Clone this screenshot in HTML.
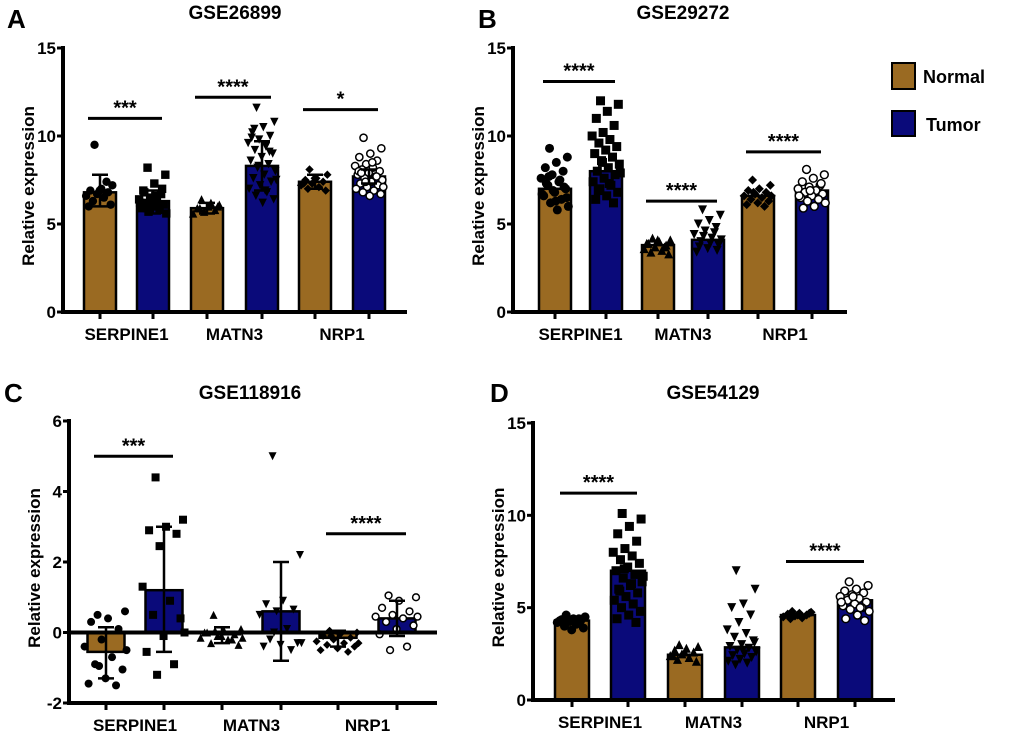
<!DOCTYPE html>
<html><head><meta charset="utf-8"><style>
body{margin:0;background:#fff}
svg{display:block;font-family:"Liberation Sans",Arial,sans-serif;font-weight:bold}
</style></head><body>
<svg id="fig" width="1020" height="742" viewBox="0 0 1020 742">
<g id="legend">
<rect x="892" y="63" width="23" height="26" fill="#9a6a22" stroke="#000" stroke-width="2"/>
<text x="923" y="83" font-size="18">Normal</text>
<rect x="892" y="111" width="23" height="25" fill="#0a0a7a" stroke="#000" stroke-width="2"/>
<text x="926" y="131" font-size="18">Tumor</text>
</g>
</svg>
<script>
const categories=["SERPINE1","MATN3","NRP1"];
const groups=["Normal","Tumor"];
const meansA=[6.8,6.3,5.9,8.3,7.4,7.7];
const meansB=[7.0,8.0,3.8,4.1,6.6,6.9];
const meansC=[-0.55,1.2,-0.05,0.6,-0.15,0.4];
const meansD=[4.3,7.0,2.45,2.85,4.6,5.4];
const errA=[[6.0,7.8],[5.6,6.9],[5.6,6.2],[6.9,9.7],[7.0,7.8],[7.3,8.1]];
const errC=[[-1.3,0.15],[-0.55,3.0],[-0.3,0.15],[-0.8,2.0],[-0.4,0.05],[-0.1,0.9]];
const ptsA=[[9.5,7.2,7.0,6.9,6.8,6.7,6.6,6.5,6.3,6.1,6.9,6.0,7.4],
 [8.2,7.8,7.3,6.9,6.7,6.5,6.4,6.3,6.2,6.1,6.0,5.9,5.8,5.7,5.6,6.6,6.8,7.0,6.4,6.2,6.0,5.9],
 [6.4,6.1,6.0,5.9,5.8,5.7,5.6,6.2,5.9,6.0],
 [11.6,10.8,10.5,10.2,10.0,9.8,9.6,9.4,9.2,9.0,8.8,8.6,8.4,8.2,8.0,7.8,7.6,7.4,7.2,7.0,6.8,6.6,6.4,6.2,9.9,9.1,8.3,7.5,6.9,10.4],
 [8.1,7.8,7.6,7.5,7.4,7.3,7.2,7.1,7.0,6.9,7.6,7.3],
 [9.9,9.3,9.0,8.8,8.6,8.4,8.3,8.2,8.1,8.0,7.9,7.8,7.7,7.6,7.5,7.4,7.3,7.2,7.1,7.0,6.9,6.8,6.7,6.6,8.0,7.7,7.4,7.1,8.5,7.9]];
const ptsB=[[9.3,8.8,8.5,8.2,8.0,7.8,7.6,7.4,7.2,7.0,6.8,6.6,6.4,6.2,6.0,5.8,7.3,7.1,6.9,6.7,7.5,7.7,6.5,6.3],
 [12.0,11.8,11.4,11.0,10.6,10.2,10.0,9.8,9.6,9.4,9.2,9.0,8.8,8.6,8.4,8.2,8.0,7.8,7.6,7.4,7.2,7.0,6.8,6.6,6.4,6.2,8.5,7.9,7.3,6.9],
 [4.2,4.1,4.0,3.9,3.8,3.7,3.6,3.5,3.4,3.3,4.1,3.9,3.7],
 [5.8,5.5,5.2,5.0,4.8,4.6,4.4,4.2,4.0,3.8,3.6,3.4,4.5,4.3,4.1,3.9,3.7,3.5],
 [7.5,7.2,7.0,6.9,6.8,6.7,6.6,6.5,6.4,6.3,6.2,6.1,6.0,6.8,6.6],
 [8.1,7.8,7.6,7.4,7.2,7.1,7.0,6.9,6.8,6.7,6.6,6.5,6.4,6.3,6.2,6.0,5.9,7.3,6.9,6.6]];
const ptsC=[[0.5,0.6,0.4,0.3,0.1,-0.2,-0.4,-0.7,-0.9,-1.05,-1.3,-1.45,-1.5,-0.95,-0.5],
 [4.4,3.2,3.0,2.9,2.8,2.45,1.3,0.9,0.5,0.4,-0.1,-0.55,-0.9,-1.2,0.0],
 [0.5,0.1,0.05,0.0,-0.05,-0.1,-0.15,-0.2,-0.3,-0.35,-0.1,0.0,-0.2,0.05,-0.15],
 [5.0,2.2,0.9,0.8,0.65,0.6,0.5,0.1,-0.2,-0.3,-0.35,-0.4,-0.5,0.0,-0.3],
 [0.05,0.0,-0.05,-0.1,-0.15,-0.2,-0.25,-0.3,-0.35,-0.4,-0.45,-0.5,-0.55,-0.1,-0.3],
 [1.05,1.0,0.9,0.7,0.6,0.5,0.45,0.4,0.3,0.2,0.1,-0.05,-0.4,-0.5,0.45]];
const ptsD=[[4.6,4.5,4.4,4.35,4.3,4.25,4.2,4.1,4.0,3.9,3.8,4.3,4.4],
 [10.1,9.8,9.4,9.0,8.6,8.2,8.0,7.8,7.6,7.4,7.2,7.0,6.8,6.6,6.4,6.2,6.0,5.8,5.6,5.4,5.2,5.0,4.8,4.6,4.4,4.2,7.1,6.7,6.3,5.9],
 [3.0,2.9,2.8,2.7,2.6,2.5,2.4,2.3,2.2,2.1,2.6,2.4],
 [7.0,6.0,5.2,5.0,4.6,4.2,3.8,3.6,3.4,3.2,3.0,2.9,2.8,2.7,2.6,2.5,2.4,2.3,2.2,2.1,2.0,1.9,3.1,2.7],
 [4.8,4.75,4.7,4.65,4.6,4.55,4.5,4.45,4.4,4.7,4.6],
 [6.4,6.2,6.0,5.9,5.8,5.7,5.6,5.5,5.4,5.3,5.2,5.1,5.0,4.9,4.8,4.6,4.4,4.3,5.6,5.3,5.0]];
const yTicksAB=[0,5,10,15];
const yTicksC=[-2,0,2,4,6];
const sigA=[["***",0,1,11.0],["****",2,3,12.2],["*",4,5,11.5]];
const sigB=[["****",0,1,13.1],["****",2,3,6.3],["****",4,5,9.1]];
const sigC=[["***",0,1,5.0],["****",4,5,2.8]];
const sigD=[["****",0,1,11.2],["****",4,5,7.5]];

const NS="http://www.w3.org/2000/svg";
const svg=document.getElementById('fig');
function mk(tag,attrs,parent){const e=document.createElementNS(NS,tag);for(const k in attrs)e.setAttribute(k,attrs[k]);(parent||svg).appendChild(e);return e;}
const markers=["circle","square","tri","tridown","diamond","ocircle"];
function marker(g,type,x,y,s){
  let e;
  if(type==="circle") e=mk('circle',{cx:x,cy:y,r:s,fill:'#000'},g);
  else if(type==="ocircle") e=mk('circle',{cx:x,cy:y,r:s-0.6,fill:'#fff',stroke:'#000','stroke-width':1.5},g);
  else if(type==="square") e=mk('rect',{x:x-s,y:y-s,width:2*s,height:2*s,fill:'#000'},g);
  else if(type==="tri") e=mk('polygon',{points:`${x},${y-s} ${x-s},${y+s} ${x+s},${y+s}`,fill:'#000'},g);
  else if(type==="tridown") e=mk('polygon',{points:`${x},${y+s} ${x-s},${y-s} ${x+s},${y-s}`,fill:'#000'},g);
  else e=mk('polygon',{points:`${x},${y-s} ${x+s},${y} ${x},${y+s} ${x-s},${y}`,fill:'#000'},g);
  
  
}
function panel(p){
  const g=mk('g',{});
  
  
  const ys=v=>p.y0px+(v-p.ymin)/(p.ymax-p.ymin)*(p.y1px-p.y0px);
  const base=ys(Math.max(0,p.ymin));
  const L=mk('text',{x:p.lx,y:p.ly,'font-size':26},g);L.textContent=p.letter;
  
  const T=mk('text',{x:p.tx,y:p.ty,'font-size':19,'text-anchor':'middle'},g);T.textContent=p.title;
  
  const yt=mk('text',{x:0,y:0,'font-size':17,'text-anchor':'middle',transform:`translate(${p.ax-29},${(p.y0px+p.y1px)/2+6}) rotate(-90)`},g);
  yt.textContent="Relative expression";
  
  p.means.forEach((m,i)=>{
    const x=p.cx[i],y=ys(m);
    const r=mk('rect',{x:x-p.bw/2,y:Math.min(y,base),width:p.bw,height:Math.abs(base-y),fill:i%2?'#0a0a7a':'#9a6a22',stroke:'#000','stroke-width':2.5},g);
    
    
  });
  p.pts.forEach((arr,i)=>{
    const w=p.bw*p.jit;
    arr.forEach((v,j)=>{
      const off=((j*0.618+0.31)%1)-0.5;
      marker(g,markers[i],p.cx[i]+off*2*w,ys(v),p.ms);
    });
  });
  if(p.err) p.err.forEach((e,i)=>{
    const x=p.cx[i];
    const l=mk('path',{d:`M${x},${ys(e[0])}V${ys(e[1])}M${x-8},${ys(e[0])}H${x+8}M${x-8},${ys(e[1])}H${x+8}`,stroke:'#000','stroke-width':2.5,fill:'none'},g);
    
  });
  const ya=mk('line',{x1:p.ax,y1:p.y1px-2,x2:p.ax,y2:p.y0px+2,stroke:'#000','stroke-width':4},g);
  
  const xa=mk('line',{x1:p.ax,y1:p.y0px,x2:p.xend,y2:p.y0px,stroke:'#000','stroke-width':4},g);
  
  if(p.ymin<0){
    const zl=mk('line',{x1:p.ax,y1:base,x2:p.xend,y2:base,stroke:'#000','stroke-width':4},g);
    
  }
  p.ticks.forEach(t=>{
    const y=ys(t);
    mk('line',{x1:p.ax-6,y1:y,x2:p.ax,y2:y,stroke:'#000','stroke-width':3},g);
    const tl=mk('text',{x:p.ax-7,y:y+6,'font-size':17,'text-anchor':'end'},g);tl.textContent=t;
    
  });
  p.cx.forEach(x=>mk('line',{x1:x,y1:p.y0px,x2:x,y2:p.y0px+7,stroke:'#000','stroke-width':3},g));
  categories.forEach((c,k)=>{
    const xl=mk('text',{x:(p.cx[2*k]+p.cx[2*k+1])/2,y:p.y0px+28,'font-size':17,'text-anchor':'middle'},g);
    xl.textContent=c;
    
  });
  p.sig.forEach(s=>{
    const x1=p.cx[s[1]]-12,x2=p.cx[s[2]]+9,y=ys(s[3]);
    const sl=mk('line',{x1:x1,y1:y,x2:x2,y2:y,stroke:'#000','stroke-width':3},g);
    
    const st=mk('text',{x:(x1+x2)/2,y:y-4,'font-size':20,'text-anchor':'middle'},g);st.textContent=s[0];
    
  });
}
panel({letter:'A',lx:7,ly:28,title:'GSE26899',tx:235,ty:19,ax:63,xend:407,y0px:312,y1px:48,ymin:0,ymax:15,
  cx:[100,153,207,262,315,369],bw:32,means:meansA,err:errA,pts:ptsA,ticks:yTicksAB,sig:sigA,ms:4.2,jit:0.45});
panel({letter:'B',lx:478,ly:28,title:'GSE29272',tx:683,ty:19,ax:513,xend:847,y0px:312,y1px:48,ymin:0,ymax:15,
  cx:[555,606,658,708,758,812],bw:32,means:meansB,err:null,pts:ptsB,ticks:yTicksAB,sig:sigB,ms:4.5,jit:0.45});
panel({letter:'C',lx:4,ly:402,title:'GSE118916',tx:250,ty:399,ax:69,xend:437,y0px:703,y1px:421,ymin:-2,ymax:6,
  cx:[106,164,222,281,338,397],bw:37,means:meansC,err:errC,pts:ptsC,ticks:yTicksC,sig:sigC,ms:4,jit:0.6});
panel({letter:'D',lx:490,ly:402,title:'GSE54129',tx:713,ty:399,ax:533,xend:895,y0px:700,y1px:423,ymin:0,ymax:15,
  cx:[572,628,685,742,798,855],bw:34,means:meansD,err:null,pts:ptsD,ticks:yTicksAB,sig:sigD,ms:4.5,jit:0.45});
</script>
</body></html>
